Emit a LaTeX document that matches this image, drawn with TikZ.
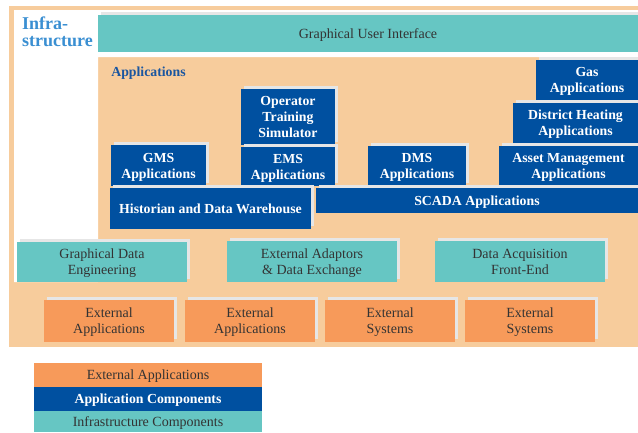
\documentclass[tikz,border=0pt]{standalone}
\usepackage{fontspec}
\setmainfont{Liberation Serif}
\usetikzlibrary{shadows}

\definecolor{peach}{HTML}{F7CC9C}
\definecolor{appblue}{HTML}{0050A0}
\definecolor{infrateal}{HTML}{66C6C3}
\definecolor{extorange}{HTML}{F79A5A}
\definecolor{shadowgray}{HTML}{E6E6E6}
\definecolor{textgray}{HTML}{333333}
\definecolor{infrablue}{HTML}{3A8FD2}
\definecolor{labelblue}{HTML}{1A56A0}

\tikzset{
  blk/.style={inner sep=0pt, align=center, text depth=0pt, font=\fontsize{14}{16}\selectfont,
    drop shadow={shadow xshift=3pt, shadow yshift=3.5pt, fill=shadowgray, opacity=1}},
  appbox/.style={blk, fill=appblue, text=white, font=\fontsize{13.8}{16}\selectfont\bfseries},
  infrabox/.style={blk, fill=infrateal, text=textgray},
  extbox/.style={blk, fill=extorange, text=textgray, minimum width=130, minimum height=42},
  keybox/.style={inner sep=0pt, text depth=0pt, minimum width=228, minimum height=24,
    font=\fontsize{14}{16}\selectfont}
}

\begin{document}
\begin{tikzpicture}[x=1pt, y=-1pt]
\useasboundingbox[fill=white] (0,0) rectangle (638,432);

% frame and infrastructure area
\fill[peach] (9,6) rectangle (638,347);
\fill[white] (14,10) -- (638,10) -- (638,57) -- (98,57) -- (98,282) -- (14,282) -- cycle;

\node[anchor=north west, inner sep=0pt, align=left, text=infrablue,
  font=\fontsize{18}{17}\selectfont\bfseries] (infra) at (22,17) {Infra-\\structure};
\node[infrabox, minimum width=540, minimum height=37] (gui) at (368,33.5)
  {Graphical User Interface};

% applications
\node[inner sep=0pt, text=labelblue, font=\fontsize{13.8}{16}\selectfont\bfseries]
  (apps) at (148.5,73) {Applications};

\node[appbox, minimum width=94, minimum height=56] (ots) at (288,117)
  {Operator\\Training\\Simulator};
\node[appbox, minimum width=94, minimum height=39] (ems) at (288,166.5)
  {EMS\\Applications};
\node[appbox, minimum width=95, minimum height=41] (gms) at (158.5,165.5)
  {GMS\\Applications};
\node[appbox, minimum width=98, minimum height=40] (dms) at (417,166)
  {DMS\\Applications};
\node[appbox, minimum width=139, minimum height=40] (asset) at (568.5,166)
  {Asset Management\\Applications};
\node[appbox, minimum width=125, minimum height=40] (heat) at (575.5,123)
  {District Heating\\Applications};
\node[appbox, minimum width=102, minimum height=40] (gas) at (587,80)
  {Gas\\Applications};
\node[appbox, minimum width=201, minimum height=41] (hist) at (210.5,208.5)
  {Historian and Data Warehouse};
\node[appbox, minimum width=322, minimum height=25] (scada) at (477,200.5)
  {SCADA Applications};

% infrastructure components
\node[infrabox, minimum width=170, minimum height=40] (gde) at (102,262)
  {Graphical Data\\Engineering};
\node[infrabox, minimum width=170, minimum height=41] (adapt) at (312,261.5)
  {External Adaptors\\\& Data Exchange};
\node[infrabox, minimum width=170, minimum height=41] (daq) at (520,261.5)
  {Data Acquisition\\Front-End};

% external systems
\foreach \x/\t [count=\i] in {109/{External\\Applications}, 250/{External\\Applications},
  390/{External\\Systems}, 530/{External\\Systems}} {
  \node[extbox] (ext\i) at (\x,321) {\t};
}

% legend
\node[keybox, fill=extorange, text=textgray] (keyext) at (148,375) {External Applications};
\node[keybox, fill=appblue, text=white, font=\fontsize{13.8}{16}\selectfont\bfseries]
  (keyapp) at (148,399) {Application Components};
\node[keybox, fill=infrateal, text=textgray, minimum height=21] (keyinf) at (148,421.5)
  {Infrastructure Components};
\end{tikzpicture}
\end{document}
